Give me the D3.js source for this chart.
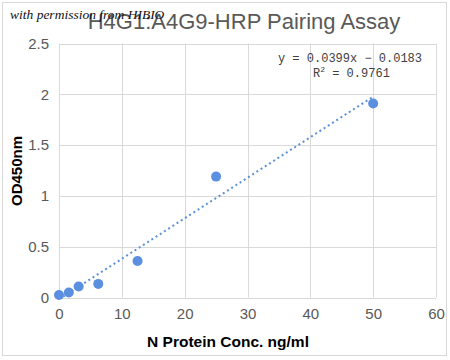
<!DOCTYPE html>
<html><head><meta charset="utf-8">
<script src="https://cdn.jsdelivr.net/npm/d3@7"></script>
<style>body{margin:0;background:#fff}svg{display:block}</style>
</head><body>
<script>
const concentrations = [0, 1.5625, 3.125, 6.25, 12.5, 25, 50];
const odValues = [0.025, 0.05, 0.108, 0.134, 0.36, 1.19, 1.91];
const xTicks = [0, 10, 20, 30, 40, 50, 60];
const yTicks = [0, 0.5, 1, 1.5, 2, 2.5];
const yTickLabels = ["0", "0.5", "1", "1.5", "2", "2.5"];
const slope = 0.0399, intercept = -0.0183;

const W = 450, H = 360;
const svg = d3.select("body").append("svg").attr("width", W).attr("height", H);
svg.append("rect").attr("x", 2.5).attr("y", 2.5).attr("width", 444).attr("height", 353)
  .attr("fill", "#fff").attr("stroke", "#d9d9d9");

const x = d3.scaleLinear().domain([0, 60]).range([59, 436]);
const y = d3.scaleLinear().domain([0, 2.5]).range([297.5, 43.5]);

const g = svg.append("g");
g.selectAll(".hg").data(yTicks).join("line")
  .attr("x1", x(0)).attr("x2", x(60)).attr("y1", d => Math.round(y(d)) + 0.5).attr("y2", d => Math.round(y(d)) + 0.5)
  .attr("stroke", "#d9d9d9").attr("stroke-width", 1);
g.selectAll(".vg").data(xTicks).join("line")
  .attr("y1", y(0)).attr("y2", y(2.5)).attr("x1", d => Math.round(x(d)) + 0.5).attr("x2", d => Math.round(x(d)) + 0.5)
  .attr("stroke", "#d9d9d9").attr("stroke-width", 1);

const xAxis = d3.axisBottom(x).tickValues(xTicks).tickSize(0).tickPadding(11);
const xg = svg.append("g").attr("transform", `translate(0,${y(0)})`).call(xAxis);
xg.select(".domain").remove();
xg.selectAll("text").attr("font-family", "Arial, 'Liberation Sans', sans-serif").attr("font-size", 15).attr("fill", "#595959");

const yAxis = d3.axisLeft(y).tickValues(yTicks).tickFormat((d, i) => yTickLabels[i]).tickSize(0).tickPadding(10);
const yg = svg.append("g").attr("transform", `translate(${x(0)},0)`).call(yAxis);
yg.select(".domain").remove();
yg.selectAll("text").attr("font-family", "Arial, 'Liberation Sans', sans-serif").attr("font-size", 15).attr("fill", "#595959");

svg.append("defs").append("clipPath").attr("id", "clip").append("rect")
  .attr("x", x(0)).attr("y", y(2.5)).attr("width", x(60) - x(0)).attr("height", y(0) - y(2.5));
const tl = [0, 50].map(v => [x(v), y(slope * v + intercept)]);
svg.append("path").attr("clip-path", "url(#clip)")
  .attr("d", d3.line()(tl)).attr("stroke", "#5b8fd8").attr("stroke-width", 2)
  .attr("stroke-dasharray", "2,3").attr("fill", "none");

svg.selectAll(".pt").data(concentrations).join("circle")
  .attr("cx", d => x(d)).attr("cy", (d, i) => y(odValues[i])).attr("r", 5)
  .attr("fill", "#5b8fe0");

const eq = svg.append("g").attr("font-family", "'Liberation Mono','DejaVu Sans Mono',monospace").attr("font-size", 12).attr("fill", "#404040");
eq.append("text").attr("x", 422).attr("y", 62).attr("text-anchor", "end").text("y = 0.0399x − 0.0183");
const r2 = eq.append("text").attr("x", 313).attr("y", 77);
r2.append("tspan").text("R");
r2.append("tspan").attr("font-size", 8).attr("dy", -5).text("2");
r2.append("tspan").attr("dy", 5).text(" = 0.9761");

svg.append("text").attr("x", 244).attr("y", 29).attr("text-anchor", "middle")
  .attr("font-family", "Arial, 'Liberation Sans', sans-serif").attr("font-size", 22).attr("fill", "#595959")
  .text("H4G1:A4G9-HRP Pairing Assay");

svg.append("text").attr("x", 228).attr("y", 347).attr("text-anchor", "middle")
  .attr("font-family", "Arial, 'Liberation Sans', sans-serif").attr("font-size", 15.5).attr("font-weight", "bold").attr("fill", "#000")
  .text("N Protein Conc. ng/ml");
svg.append("text").attr("transform", "translate(22,171) rotate(-90)").attr("text-anchor", "middle")
  .attr("font-family", "Arial, 'Liberation Sans', sans-serif").attr("font-size", 15).attr("font-weight", "bold").attr("fill", "#000")
  .text("OD450nm");

svg.append("text").attr("x", 10).attr("y", 19)
  .attr("font-family", "'Liberation Serif','DejaVu Serif',serif").attr("font-style", "italic").attr("font-size", 13.5).attr("fill", "#111")
  .text("with permission from HIBIO");
</script>
</body></html>
